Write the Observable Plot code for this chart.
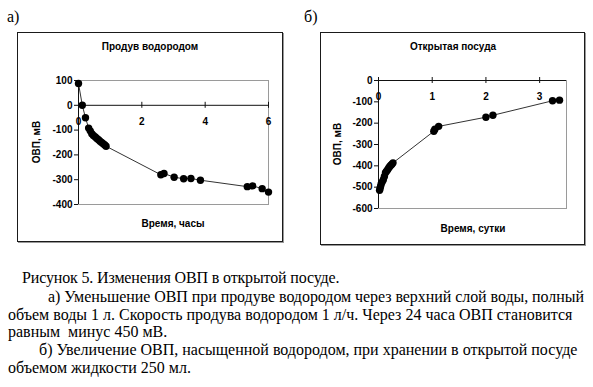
<!DOCTYPE html>
<html><head><meta charset="utf-8">
<script src="https://cdn.jsdelivr.net/npm/d3@7"></script>
<script src="https://cdn.jsdelivr.net/npm/@observablehq/plot@0.6"></script>
<style>
html,body{margin:0;padding:0;background:#fff}
body{width:593px;height:387px;overflow:hidden;position:relative;font-family:"Liberation Serif","Times New Roman",serif;color:#000}
.panel{position:absolute;border:1px solid #1a1a1a;box-shadow:1px 1px 0 #999;background:#fff}
.panel svg{display:block}
.lbl{position:absolute;font-size:16px;line-height:16px}
.cap{position:absolute;font-size:16px;line-height:16px;white-space:pre}
</style></head><body>
<div class="lbl" style="left:7px;top:9px">а)</div>
<div class="lbl" style="left:304px;top:9px">б)</div>
<div class="panel" id="pa" style="left:17px;top:32px"></div>
<div class="panel" id="pb" style="left:320px;top:32px"></div>
<div class="cap" style="left:22px;top:270px;letter-spacing:-0.15px">Рисунок 5. Изменения ОВП в открытой посуде.</div>
<div class="cap" style="left:48px;top:289px;letter-spacing:-0.06px">а) Уменьшение ОВП при продуве водородом через верхний слой воды, полный</div>
<div class="cap" style="left:8px;top:307px">объем воды 1 л. Скорость продува водородом 1 л/ч. Через 24 часа ОВП становится</div>
<div class="cap" style="left:8px;top:324px">равным  минус 450 мВ.</div>
<div class="cap" style="left:39px;top:342px">б) Увеличение ОВП, насыщенной водородом, при хранении в открытой посуде</div>
<div class="cap" style="left:8px;top:360px">объемом жидкости 250 мл.</div>
<script>
// Panel a: hydrogen purge
const titleA = "Продув водородом";
const xLabelA = "Время, часы";
const yLabel = "ОВП, мВ";
const hoursA = [0, 0.12, 0.22, 0.32, 0.37, 0.42, 0.47, 0.53, 0.58, 0.63, 0.68, 0.73, 0.78, 0.83, 0.87, 2.6, 2.7, 3.02, 3.32, 3.55, 3.85, 5.33, 5.5, 5.8, 6.0];
const orpA   = [88, 0, -50, -92, -103, -115, -122, -128, -134, -139, -145, -150, -155, -160, -165, -280, -275, -290, -296, -295, -302, -328, -325, -336, -350];
const xTicksA = [0, 2, 4, 6];
const yTicksA = [100, 0, -100, -200, -300, -400];

// Panel b: open vessel
const titleB = "Открытая посуда";
const xLabelB = "Время, сутки";
const daysB = [0.02, 0.03, 0.04, 0.05, 0.07, 0.09, 0.11, 0.13, 0.15, 0.17, 0.19, 0.21, 0.23, 0.25, 0.27, 1.03, 1.05, 1.12, 2.0, 2.13, 3.24, 3.37];
const orpB  = [-515, -505, -495, -485, -475, -465, -450, -432, -425, -418, -410, -403, -397, -392, -386, -238, -228, -215, -172, -163, -95, -92];
const xTicksB = [0, 1, 2, 3];
const yTicksB = [0, -100, -200, -300, -400, -500, -600];

const sans = "Liberation Sans, Arial, sans-serif";

function panel({xs, ys, xDomain, yDomain, xTicks, yTicks, title, xLabel, width, height, mL, mR, mT, mB, xLabelDx, titleDx, xLabelY, yLabelX}) {
  const data = xs.map((x, i) => ({x, y: ys[i]}));
  const x0 = xDomain[0];
  const plot = Plot.plot({
    width, height,
    marginLeft: mL, marginRight: mR, marginTop: mT, marginBottom: mB,
    style: {fontFamily: sans, fontSize: "10px", fontWeight: "bold", background: "#fff", overflow: "visible"},
    x: {type: "linear", domain: xDomain, axis: null},
    y: {type: "linear", domain: yDomain, axis: null},
    marks: [
      Plot.frame({stroke: "#9a9a9a", strokeWidth: 1}),
      Plot.ruleY([0], {stroke: "#111", strokeWidth: 1}),
      Plot.ruleX([x0], {stroke: "#111", strokeWidth: 1}),
      Plot.ruleX(xTicks, {x: d => d, y1: 0, y2: 0, insetTop: -3, insetBottom: -3, stroke: "#111"}),
      Plot.text(xTicks, {x: d => d, y: () => 0, dy: 16, text: d => String(d), fontWeight: "bold", fontSize: 10, fill: "#000"}),
      Plot.ruleY(yTicks, {y: d => d, x1: x0, x2: x0, insetLeft: -4, insetRight: 0, stroke: "#111"}),
      Plot.text(yTicks, {y: d => d, x: () => x0, dx: -6, textAnchor: "end", text: d => String(d), fontWeight: "bold", fontSize: 10, fill: "#000"}),
      Plot.line(data, {x: "x", y: "y", stroke: "#333", strokeWidth: 1}),
      Plot.dot(data, {x: "x", y: "y", r: 3.7, fill: "#000", stroke: "none"})
    ]
  });
  const svg = d3.select(plot);
  svg.append("text").attr("x", mL + titleDx).attr("y", 17).attr("text-anchor", "middle")
    .attr("font-family", sans).attr("font-size", 10).attr("font-weight", "bold").text(title);
  svg.append("text").attr("x", mL + xLabelDx).attr("y", xLabelY).attr("text-anchor", "middle")
    .attr("font-family", sans).attr("font-size", 10).attr("font-weight", "bold").text(xLabel);
  svg.append("text").attr("transform", `translate(${yLabelX},${mT + (height - mT - mB) / 2}) rotate(-90)`)
    .attr("text-anchor", "middle").attr("font-family", sans).attr("font-size", 10).attr("font-weight", "bold").text(yLabel);
  return plot;
}

const pa = panel({xs: hoursA, ys: orpA, xDomain: [0, 6], yDomain: [-400, 100], xTicks: xTicksA, yTicks: yTicksA,
  title: titleA, xLabel: xLabelA, width: 264, height: 208, mL: 60, mR: 14, mT: 47, mB: 37,
  titleDx: 72, xLabelDx: 95, xLabelY: 194, yLabelX: 22});
const pb = panel({xs: daysB, ys: orpB, xDomain: [0, 3.5], yDomain: [-600, 0], xTicks: xTicksB, yTicks: yTicksB,
  title: titleB, xLabel: xLabelB, width: 263, height: 211, mL: 57, mR: 18, mT: 47, mB: 36,
  titleDx: 75, xLabelDx: 95, xLabelY: 199, yLabelX: 20});
document.getElementById("pa").appendChild(pa);
document.getElementById("pb").appendChild(pb);
</script>
</body></html>
